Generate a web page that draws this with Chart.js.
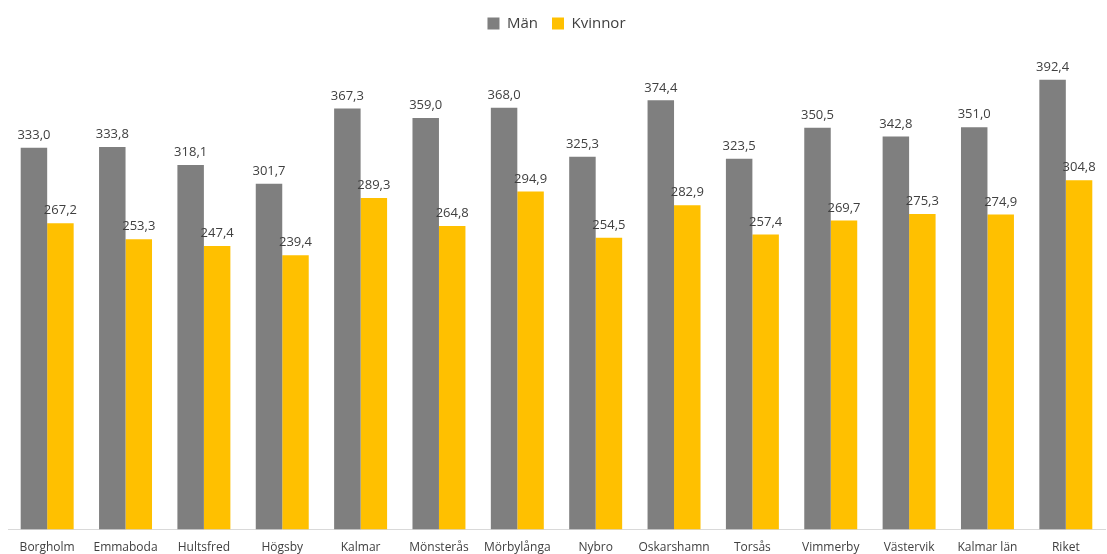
<!DOCTYPE html>
<html>
<head>
<meta charset="utf-8">
<script src="https://cdn.jsdelivr.net/npm/chart.js@4/dist/chart.umd.min.js"></script>
<style>
  html, body { margin: 0; padding: 0; background: #fff; }
  #wrap { width: 1107px; height: 554px; }
</style>
</head>
<body>
<div id="wrap"><canvas id="chart-kommuner" width="1107" height="554"></canvas></div>
<script>
  // Kommuner i Kalmar län + länet och riket
  const kommuner = ['Borgholm', 'Emmaboda', 'Hultsfred', 'Högsby', 'Kalmar', 'Mönsterås', 'Mörbylånga',
    'Nybro', 'Oskarshamn', 'Torsås', 'Vimmerby', 'Västervik', 'Kalmar län', 'Riket'];
  const man = [333.0, 333.8, 318.1, 301.7, 367.3, 359.0, 368.0, 325.3, 374.4, 323.5, 350.5, 342.8, 351.0, 392.4];
  const kvinnor = [267.2, 253.3, 247.4, 239.4, 289.3, 264.8, 294.9, 254.5, 282.9, 257.4, 269.7, 275.3, 274.9, 304.8];

  const fontFam = "'Open Sans', 'Noto Sans', sans-serif";

  // skriver värdet ovanför varje stapel, med decimalkomma
  const barLabels = {
    id: 'barLabels',
    afterDatasetsDraw(chart) {
      const ctx = chart.ctx;
      ctx.save();
      ctx.font = '13px ' + fontFam;
      ctx.fillStyle = '#404040';
      ctx.textAlign = 'center';
      ctx.textBaseline = 'bottom';
      chart.data.datasets.forEach((ds, i) => {
        chart.getDatasetMeta(i).data.forEach((bar, j) => {
          ctx.fillText(ds.data[j].toFixed(1).replace('.', ','), bar.x, bar.y - 6);
        });
      });
      ctx.restore();
    }
  };

  // lite extra luft under legenden
  const legendGap = {
    id: 'legendGap',
    beforeInit(chart) {
      const fit = chart.legend.fit;
      chart.legend.fit = function() {
        fit.bind(chart.legend)();
        this.height += 30;
      };
    }
  };

  let ctx = document.getElementById('chart-kommuner').getContext('2d');
  let barChart = new Chart(ctx, {
    type: 'bar',
    data: {
      labels: kommuner,
      datasets: [
        { label: 'Män', data: man, backgroundColor: '#7F7F7F' },
        { label: 'Kvinnor', data: kvinnor, backgroundColor: '#FFC000' }
      ]
    },
    options: {
      responsive: false,
      animation: false,
      devicePixelRatio: 1,
      layout: { padding: { left: 8, right: 2, top: 2, bottom: -12 } },
      datasets: { bar: { categoryPercentage: 0.676, barPercentage: 1 } },
      plugins: {
        tooltip: { enabled: false },
        legend: {
          position: 'top',
          labels: {
            boxWidth: 12,
            boxHeight: 12,
            padding: 14,
            color: '#404040',
            font: { family: fontFam, size: 15 }
          }
        }
      },
      scales: {
        x: {
          grid: { display: false, drawTicks: false },
          border: { color: '#D9D9D9' },
          ticks: {
            color: '#404040', padding: 11, maxRotation: 0, autoSkip: false,
            font: { family: fontFam, size: 12, lineHeight: 1.2 }
          }
        },
        y: { display: false, min: 0, max: 400 }
      }
    },
    plugins: [barLabels, legendGap]
  });
</script>
</body>
</html>
